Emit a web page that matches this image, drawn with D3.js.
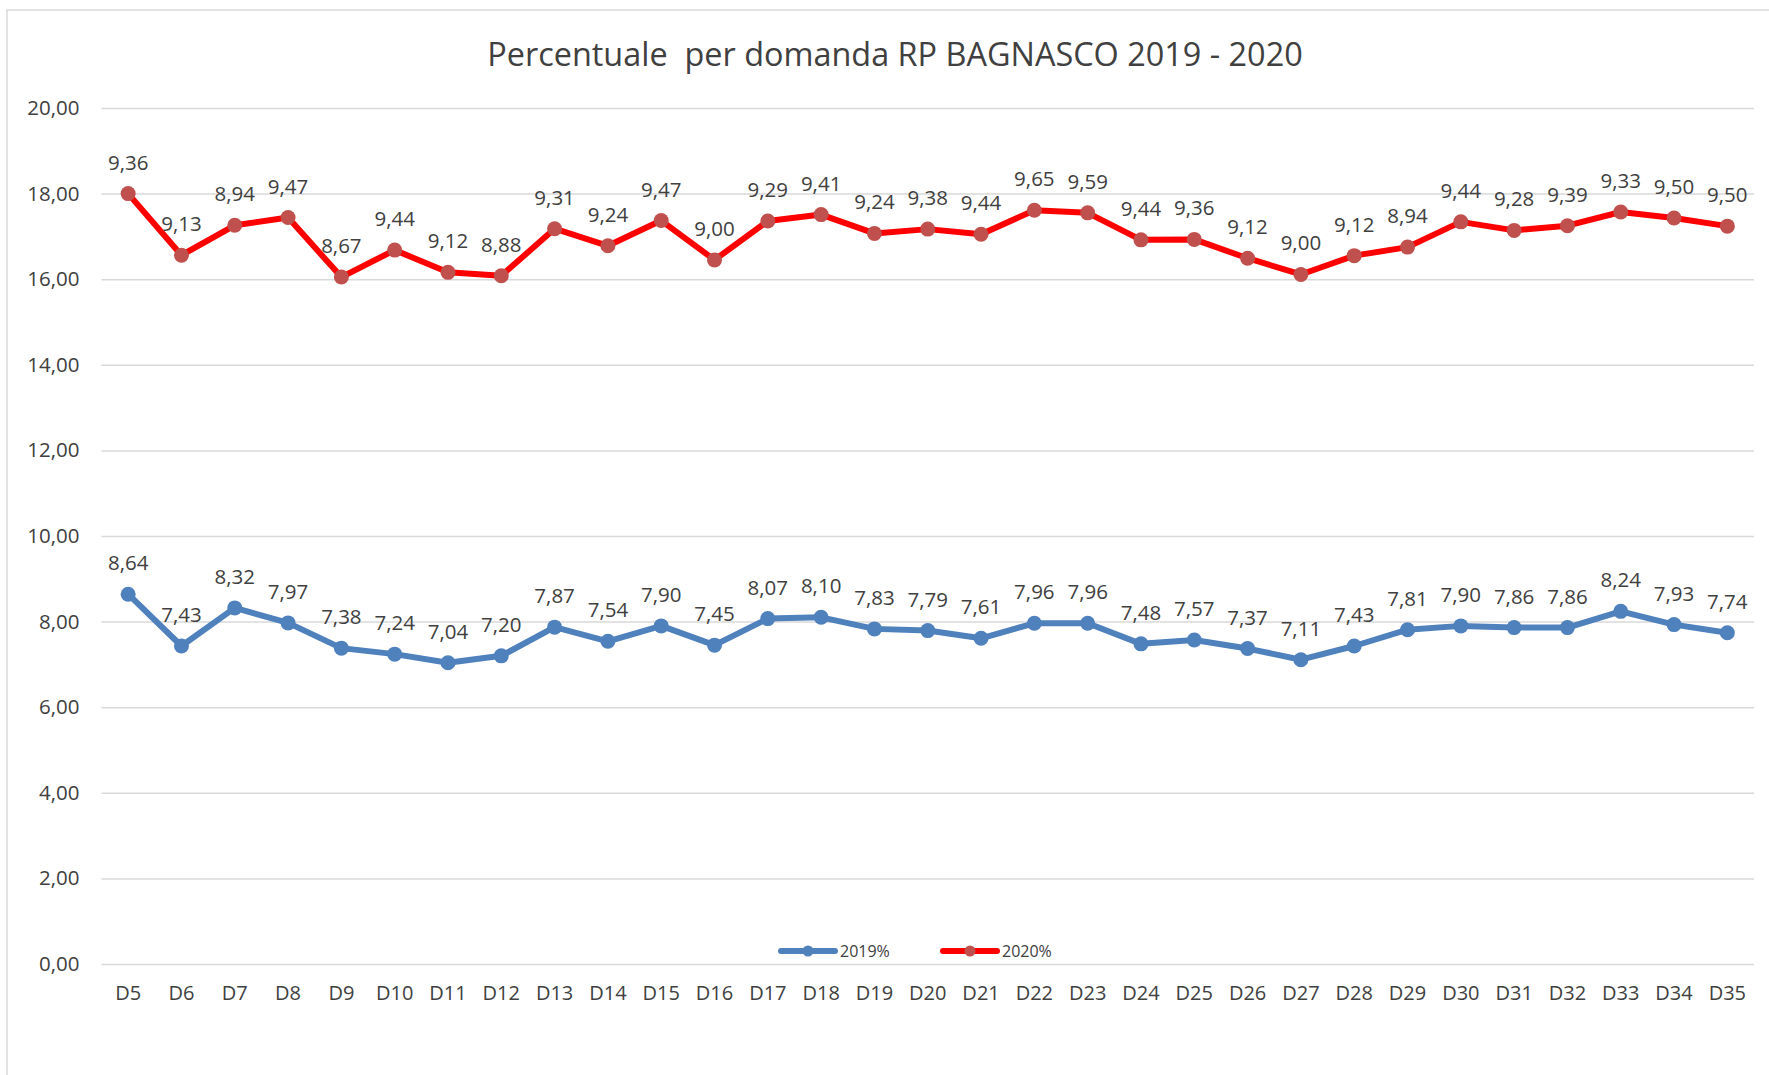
<!DOCTYPE html>
<html><head><meta charset="utf-8">
<script src="https://cdn.jsdelivr.net/npm/d3@7"></script>
<style>html,body{margin:0;padding:0;background:#fff;}svg{display:block;}</style>
</head><body>
<script>
const categories = ["D5","D6","D7","D8","D9","D10","D11","D12","D13","D14","D15","D16","D17","D18","D19","D20","D21","D22","D23","D24","D25","D26","D27","D28","D29","D30","D31","D32","D33","D34","D35"];
const values2019 = [8.64,7.43,8.32,7.97,7.38,7.24,7.04,7.20,7.87,7.54,7.90,7.45,8.07,8.10,7.83,7.79,7.61,7.96,7.96,7.48,7.57,7.37,7.11,7.43,7.81,7.90,7.86,7.86,8.24,7.93,7.74];
const values2020 = [9.36,9.13,8.94,9.47,8.67,9.44,9.12,8.88,9.31,9.24,9.47,9.00,9.29,9.41,9.24,9.38,9.44,9.65,9.59,9.44,9.36,9.12,9.00,9.12,8.94,9.44,9.28,9.39,9.33,9.50,9.50];
const yTicks = [0,2,4,6,8,10,12,14,16,18,20];
const seriesNames = ["2019%","2020%"];
const chartTitle = "Percentuale  per domanda RP BAGNASCO 2019 - 2020";

(function(){
const W = 1769, H = 1075;
const font = "'Open Sans', 'Noto Sans', sans-serif";
const svg = d3.select("body").append("svg").attr("width", W).attr("height", H);
svg.append("rect").attr("x", 7).attr("y", 10).attr("width", 1800).attr("height", 1100)
  .attr("fill", "#fff").attr("stroke", "#d9d9d9").attr("stroke-width", 1.5);

const pL = 101.5, pR = 1754, pT = 108, pB = 964;
const x = d3.scaleBand().domain(categories).range([pL, pR]);
const xc = d => x(d) + x.bandwidth() / 2;
const y = d3.scaleLinear().domain([0, 20]).range([pB, pT]);
const fmt = v => d3.format(".2f")(v).replace(".", ",");

const yAxis = d3.axisLeft(y).tickValues(yTicks).tickFormat(fmt).tickSize(-(pR - pL)).tickPadding(22);
const gy = svg.append("g").attr("transform", `translate(${pL},0)`).call(yAxis);
gy.select(".domain").remove();
gy.selectAll(".tick line").attr("stroke", "#d9d9d9").attr("stroke-width", 1.5);
gy.selectAll(".tick text").attr("fill", "#404040").style("font-family", font).style("font-size", "20.5px");

const xAxis = d3.axisBottom(x).tickSize(0).tickPadding(22);
const gx = svg.append("g").attr("transform", `translate(0,${pB})`).call(xAxis);
gx.select(".domain").remove();
gx.selectAll(".tick text").attr("fill", "#404040").style("font-family", font).style("font-size", "20px");

const stacked2020 = values2020.map((v, i) => v + values2019[i]);
const series = [
  {name: seriesNames[0], vals: values2019, label: values2019, line: "#4F81BD", marker: "#4F81BD"},
  {name: seriesNames[1], vals: stacked2020, label: values2020, line: "#FF0000", marker: "#C0504D"}
];
const line = d3.line().x((d, i) => xc(categories[i])).y(d => y(d));
series.forEach(s => {
  svg.append("path").datum(s.vals).attr("d", line).attr("fill", "none")
    .attr("stroke", s.line).attr("stroke-width", 6).attr("stroke-linejoin", "round").attr("stroke-linecap", "round");
  svg.append("g").selectAll("circle").data(s.vals).join("circle")
    .attr("cx", (d, i) => xc(categories[i])).attr("cy", d => y(d)).attr("r", 7.5).attr("fill", s.marker);
  svg.append("g").selectAll("text").data(s.label).join("text")
    .attr("x", (d, i) => xc(categories[i])).attr("y", (d, i) => y(s.vals[i]) - 32)
    .attr("text-anchor", "middle").attr("dominant-baseline", "central")
    .attr("fill", "#404040").style("font-family", font).style("font-size", "20.5px")
    .text(d => fmt(d));
});

const t = svg.append("text").attr("x", 895).attr("y", 53).attr("text-anchor", "middle")
  .attr("dominant-baseline", "central").attr("fill", "#404040").style("white-space", "pre")
  .style("font-family", font).style("font-size", "30px").text(chartTitle);
const tw = t.node().getComputedTextLength();
t.style("font-size", (30 * 816 / tw) + "px");

const legend = [{x: 781, s: series[0]}, {x: 943, s: series[1]}];
legend.forEach(l => {
  const g = svg.append("g");
  g.append("line").attr("x1", l.x).attr("x2", l.x + 54).attr("y1", 951).attr("y2", 951)
    .attr("stroke", l.s.line).attr("stroke-width", 6).attr("stroke-linecap", "round");
  g.append("circle").attr("cx", l.x + 27).attr("cy", 951).attr("r", 5.5).attr("fill", l.s.marker);
  g.append("text").attr("x", l.x + 59).attr("y", 951).attr("dominant-baseline", "central")
    .attr("fill", "#404040").style("font-family", font).style("font-size", "16px").text(l.s.name);
});
})();
</script>
</body></html>
